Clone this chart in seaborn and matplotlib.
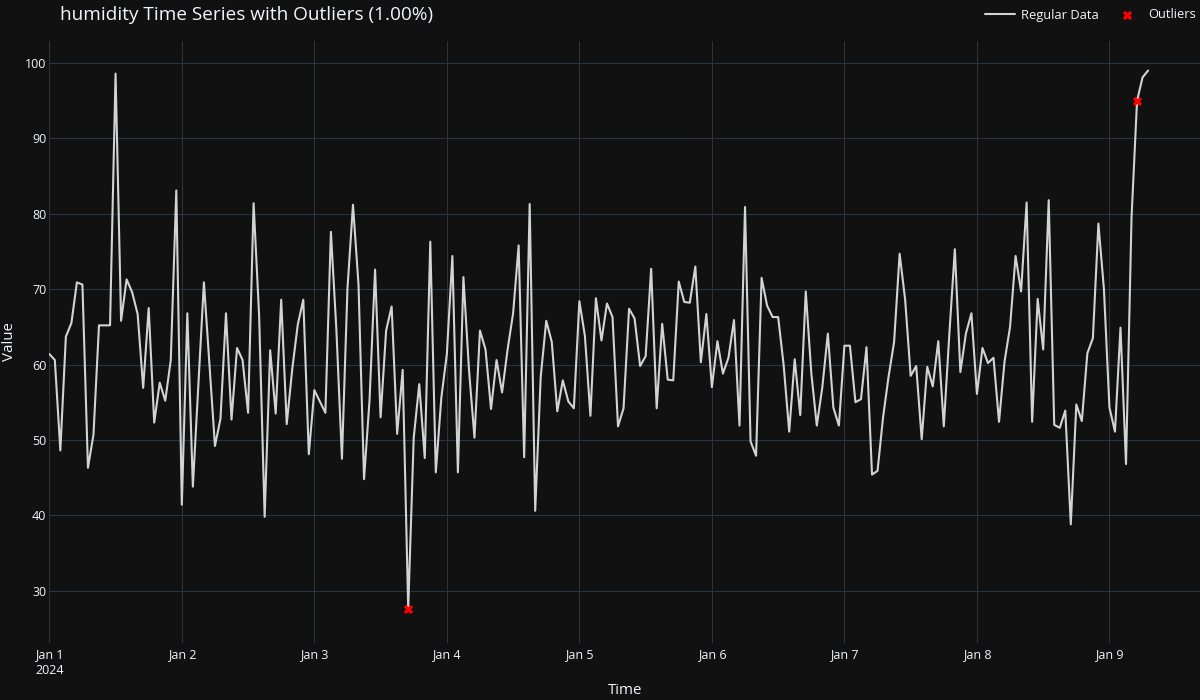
import pandas as pd
import matplotlib.pyplot as plt
import seaborn as sns

# --- Data (hourly humidity readings) ---
START = "2024-01-01 00:00"
humidity = [
    61.4, 60.6, 48.6, 63.7, 65.5, 70.9, 70.6, 46.3, 50.7, 65.2,
    65.2, 65.2, 98.6, 65.8, 71.3, 69.6, 66.7, 56.9, 67.5, 52.3,
    57.6, 55.2, 60.6, 83.1, 41.4, 66.8, 43.8, 57.3, 70.9, 60.0,
    49.2, 52.8, 66.8, 52.7, 62.2, 60.6, 53.6, 81.4, 66.5, 39.8,
    61.9, 53.5, 68.6, 52.1, 59.4, 65.3, 68.6, 48.1, 56.6, 55.1,
    53.6, 77.6, 64.5, 47.5, 70.1, 81.2, 70.6, 44.8, 55.3, 72.6,
    53.0, 64.5, 67.7, 50.8, 59.3, 27.6, 50.3, 57.4, 47.6, 76.3,
    45.7, 55.6, 61.4, 74.4, 45.7, 71.6, 59.4, 50.3, 64.5, 62.0,
    54.1, 60.6, 56.3, 62.0, 66.8, 75.8, 47.7, 81.3, 40.6, 58.4,
    65.8, 63.0, 53.8, 57.9, 55.1, 54.2, 68.4, 63.8, 53.2, 68.8,
    63.2, 68.1, 66.3, 51.8, 54.2, 67.4, 66.1, 59.8, 61.1, 72.7,
    54.2, 65.4, 58.0, 57.9, 71.0, 68.3, 68.2, 73.0, 60.3, 66.7,
    57.0, 63.1, 58.8, 60.9, 65.9, 51.9, 80.9, 49.8, 47.9, 71.5,
    67.8, 66.3, 66.3, 59.9, 51.1, 60.7, 53.3, 69.7, 58.9, 51.9,
    57.0, 64.1, 54.3, 51.9, 62.5, 62.5, 55.0, 55.4, 62.3, 45.4,
    45.9, 53.0, 58.4, 63.0, 74.7, 68.6, 58.5, 59.8, 50.1, 59.7,
    57.1, 63.1, 51.8, 64.0, 75.3, 59.0, 64.1, 66.8, 56.1, 62.2,
    60.2, 60.9, 52.4, 60.4, 65.0, 74.4, 69.7, 81.5, 52.4, 68.7,
    62.0, 81.8, 52.0, 51.6, 53.9, 38.8, 54.7, 52.5, 61.5, 63.5,
    78.7, 70.0, 54.3, 51.1, 64.9, 46.8, 79.5, 95.0, 98.1, 99.0,
]
outlier_idx = [65, 197]
y_ticks = [30, 40, 50, 60, 70, 80, 90, 100]

times = pd.date_range(START, periods=len(humidity), freq="h")
df = pd.DataFrame({"time": times, "value": humidity})
out_df = df.iloc[outlier_idx]

# --- Style (plotly dark look) ---
BG = "#111111"
GRID = "#283442"
TEXT = "#f2f5fa"

sns.set_theme(style="darkgrid")
plt.rcParams["font.family"] = ["Open Sans", "DejaVu Sans"]
plt.rcParams.update({
    "figure.facecolor": BG,
    "axes.facecolor": BG,
    "axes.edgecolor": BG,
    "grid.color": GRID,
    "grid.linewidth": 0.8,
    "text.color": TEXT,
    "axes.labelcolor": TEXT,
    "xtick.color": TEXT,
    "ytick.color": TEXT,
})

fig = plt.figure(figsize=(12, 7), dpi=100)
ax = fig.add_axes([49.3 / 1200, 57 / 700, 1 - 49.3 / 1200, 602 / 700])

sns.lineplot(data=df, x="time", y="value", color="#d3d3d3", linewidth=1.5,
             label="Regular Data", ax=ax)
sns.scatterplot(data=out_df, x="time", y="value", color="red", marker="X",
                s=45, linewidth=0, label="Outliers", ax=ax, zorder=5)

for s in ax.spines.values():
    s.set_visible(False)

# axis ranges
t0 = pd.Timestamp(START)
ax.set_xlim(t0, t0 + pd.Timedelta(hours=208.4))
ax.set_ylim(23.06, 102.92)

# ticks
days = pd.date_range(START, periods=9, freq="D")
day_labels = [d.strftime("%b ") + str(d.day) for d in days]
day_labels[0] = day_labels[0] + "\n2024"
ax.set_xticks(days)
ax.set_xticklabels(day_labels, ha="center")
ax.set_yticks(y_ticks)
ax.tick_params(axis="both", length=0, labelsize=9.0)
ax.tick_params(axis="x", pad=4)
ax.tick_params(axis="y", pad=2)
ax.grid(True, color=GRID, linewidth=0.8)

ax.set_xlabel("Time", fontsize=10.8)
ax.set_ylabel("Value", fontsize=10.8)
ax.xaxis.set_label_coords(0.5, -0.067)
ax.yaxis.set_label_coords(-0.028, 0.5)

fig.text(60 / 1200, 1 - 15 / 700, "humidity Time Series with Outliers (1.00%)",
         fontsize=13.7, color=TEXT, va="center", ha="left")

ax.legend(loc="center right", bbox_to_anchor=(1196 / 1200, 1 - 15 / 700),
          bbox_transform=fig.transFigure, ncol=2, frameon=False,
          fontsize=9.3, handlelength=2.3, handletextpad=0.5,
          columnspacing=1.0, borderpad=0, borderaxespad=0, labelcolor=TEXT)

plt.savefig("out.png", dpi=100, facecolor=BG)
